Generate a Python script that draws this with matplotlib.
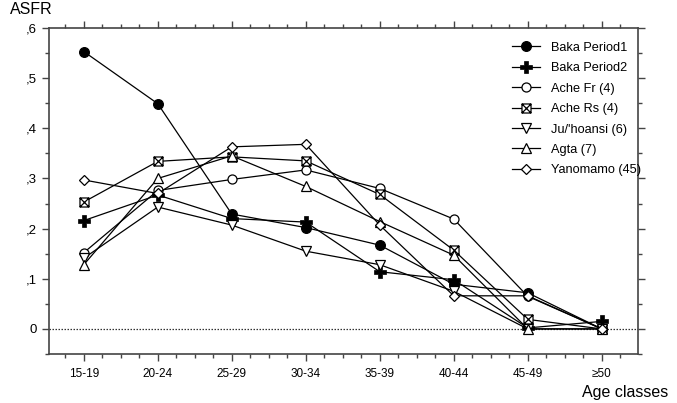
import matplotlib
matplotlib.use("Agg")
import matplotlib.pyplot as plt
from matplotlib.path import Path
from matplotlib.ticker import MultipleLocator
import numpy as np

plt.rcParams['font.family'] = ['Liberation Sans', 'DejaVu Sans']

age_classes = ["15-19", "20-24", "25-29", "30-34", "35-39", "40-44", "45-49", "≥50"]

baka_p1 = [0.553, 0.449, 0.229, 0.202, 0.167, 0.089, 0.072, 0.0]
baka_p2 = [0.216, 0.267, 0.220, 0.213, 0.114, 0.098, 0.002, 0.015]
ache_fr = [0.152, 0.276, 0.298, 0.317, 0.280, 0.219, 0.065, 0.0]
ache_rs = [0.253, 0.334, 0.343, 0.335, 0.268, 0.157, 0.019, 0.0]
juhoansi = [0.141, 0.243, 0.207, 0.155, 0.128, 0.075, 0.0, 0.0]
agta = [0.128, 0.300, 0.345, 0.284, 0.214, 0.147, 0.0, 0.0]
yanomamo = [0.297, 0.270, 0.363, 0.368, 0.207, 0.066, 0.066, 0.0]

# square with an X inside
sqx = Path([(-1, -1), (1, -1), (1, 1), (-1, 1), (-1, -1),
            (-1, -1), (1, 1), (-1, 1), (1, -1)],
           [Path.MOVETO, Path.LINETO, Path.LINETO, Path.LINETO, Path.CLOSEPOLY,
            Path.MOVETO, Path.LINETO, Path.MOVETO, Path.LINETO])

series = [
    ("Baka Period1", baka_p1, dict(marker='o', ms=7, mfc='black')),
    ("Baka Period2", baka_p2, dict(marker='P', ms=8.5, mfc='black', mew=0.5)),
    ("Ache Fr (4)", ache_fr, dict(marker='o', ms=6.5, mfc='white')),
    ("Ache Rs (4)", ache_rs, dict(marker=sqx, ms=6.5, mfc='white')),
    ("Ju/'hoansi (6)", juhoansi, dict(marker='v', ms=7, mfc='white')),
    ("Agta (7)", agta, dict(marker='^', ms=7, mfc='white')),
    ("Yanomamo (45)", yanomamo, dict(marker='D', ms=5, mfc='white')),
]

fig = plt.figure(figsize=(6.77, 4.03), dpi=100)
ax = fig.add_axes([0.0724, 0.1216, 0.87, 0.809])

x = np.arange(len(age_classes))
for name, vals, st in series:
    ax.plot(x, vals, color='black', lw=0.9, mec='black', mew=st.pop('mew', 0.9),
            label=name, **st)

ax.axhline(0, color='#333333', lw=0.9, ls=(0, (1.2, 1.2)), zorder=0)

ax.set_xlim(-0.47, 7.49)
ax.set_ylim(-0.05, 0.6)

ax.set_xticks(x)
ax.set_xticklabels(age_classes, fontsize=8.5)
ax.xaxis.set_minor_locator(MultipleLocator(0.25))
ax.set_yticks([0, 0.1, 0.2, 0.3, 0.4, 0.5, 0.6])
ax.set_yticklabels(["0", ",1", ",2", ",3", ",4", ",5", ",6"], fontsize=9.5)
ax.yaxis.set_minor_locator(MultipleLocator(0.05))

for s in ax.spines.values():
    s.set_color('#444444')
    s.set_linewidth(1.2)

ax.tick_params(axis='both', which='both', direction='out', color='#444444', width=1.0)
ax.tick_params(axis='x', which='major', length=5, top=True, pad=5)
ax.tick_params(axis='x', which='minor', length=3, top=True)
ax.tick_params(axis='y', which='major', length=5, right=True, pad=4)
ax.tick_params(axis='y', which='minor', length=3, right=True)

leg = ax.legend(loc='upper right', frameon=False, fontsize=9.2, handlelength=2.2,
                handletextpad=0.8, labelspacing=0.66, borderaxespad=0.3,
                bbox_to_anchor=(1.02, 0.985))

fig.text(0.015, 0.995, "ASFR", fontsize=11.5, ha='left', va='top')
fig.text(0.987, 0.027, "Age classes", fontsize=11.5, ha='right', va='center')

fig.savefig("out.png", dpi=100)
